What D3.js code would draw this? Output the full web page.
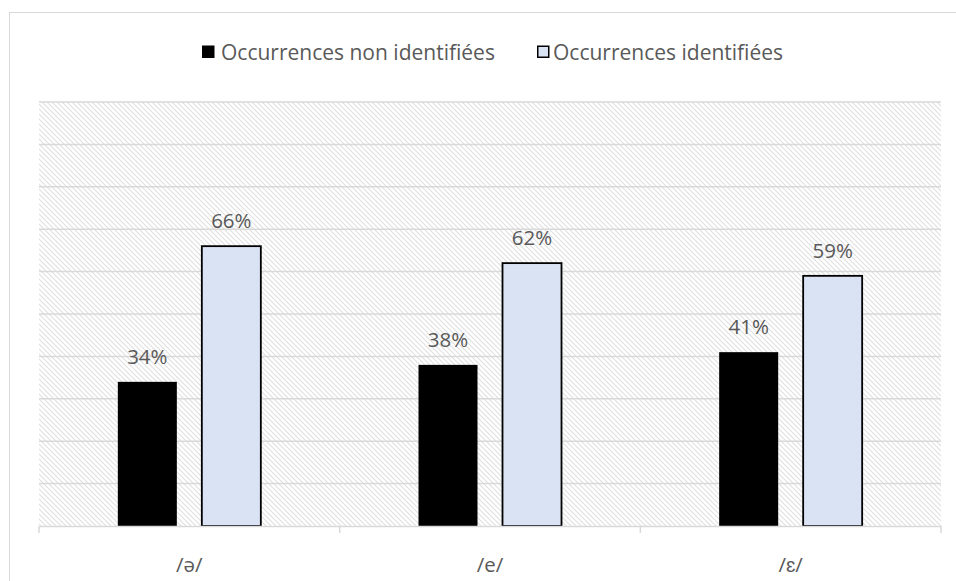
<!DOCTYPE html>
<html><head><meta charset="utf-8">
<script src="https://cdn.jsdelivr.net/npm/d3@7"></script>
<style>html,body{margin:0;padding:0;background:#fff;}svg{display:block;}</style>
</head><body>
<svg id="chart" width="956" height="581"></svg>
<script>
const categories = ["/ə/", "/e/", "/ɛ/"];
const seriesNames = ["Occurrences non identifiées", "Occurrences identifiées"];
const nonIdentified = [34, 38, 41];
const identified = [66, 62, 59];
const yTicks = [0,10,20,30,40,50,60,70,80,90,100];

(function(){
const svg = d3.select("#chart");
const W = 956, H = 581;
const mLeft = 39, mRight = 941, mTop = 102, mBottom = 526;
const font = "'Open Sans', sans-serif";
const textColor = "#595959";
const colors = ["#000000", "#DAE3F3"];
const fs = 20.5;

const defs = svg.append("defs");
const pat = defs.append("pattern").attr("id","hatch").attr("patternUnits","userSpaceOnUse")
  .attr("width",5).attr("height",5);
pat.append("rect").attr("width",5).attr("height",5).attr("fill","#fff");
pat.append("path").attr("d","M-1,-1 L6,6 M-1,4 L1,6 M4,-1 L6,1")
  .attr("stroke","#e0e0e0").attr("stroke-width",1.1);

svg.append("rect").attr("width",W).attr("height",H).attr("fill","#fff");
svg.append("rect").attr("x",9.5).attr("y",12.5).attr("width",W).attr("height",H)
  .attr("fill","none").attr("stroke","#d9d9d9");

const x0 = d3.scaleBand().domain(categories).range([mLeft,mRight]).paddingInner(0).paddingOuter(0);
const y = d3.scaleLinear().domain([0,100]).range([mBottom, mTop]);

svg.append("rect").attr("x",mLeft).attr("y",mTop).attr("width",mRight-mLeft).attr("height",mBottom-mTop)
  .attr("fill","url(#hatch)");

svg.append("g").selectAll("line").data(yTicks.filter(d=>d>0)).join("line")
  .attr("x1",mLeft).attr("x2",mRight).attr("y1",d=>y(d)).attr("y2",d=>y(d))
  .attr("stroke","#d9d9d9").attr("stroke-width",1.5);

const x1 = d3.scaleBand().domain([0,1]).range([-71.5,71.5]).paddingInner(0.2976);
const data = categories.map((c,i)=>({c, v:[nonIdentified[i], identified[i]]}));

const g = svg.append("g");
data.forEach(d=>{
  const cx = x0(d.c) + x0.bandwidth()/2;
  d.v.forEach((v,s)=>{
    g.append("rect").attr("x",cx + x1(s)).attr("y",y(v)).attr("width",x1.bandwidth())
      .attr("height",y(0)-y(v)).attr("fill",colors[s])
      .attr("stroke", s===1 ? "#000" : "none").attr("stroke-width",1.8);
    g.append("text").attr("x",cx + x1(s) + x1.bandwidth()/2).attr("y",y(v)-18)
      .attr("text-anchor","middle").attr("font-family",font).attr("font-size",fs)
      .attr("fill",textColor).text(v+"%");
  });
});

const xAxis = svg.append("g").attr("transform",`translate(0,${mBottom})`)
  .call(d3.axisBottom(x0).tickSize(0).tickPadding(31));
xAxis.select(".domain").attr("stroke","#d9d9d9").attr("stroke-width",1.5);
xAxis.selectAll("text").attr("font-family",font).attr("font-size",fs).attr("fill",textColor);
const bounds = [mLeft, ...categories.map(c=>x0(c)+x0.bandwidth())];
svg.append("g").selectAll("line").data(bounds).join("line")
  .attr("x1",d=>d).attr("x2",d=>d).attr("y1",mBottom).attr("y2",mBottom+7)
  .attr("stroke","#d9d9d9").attr("stroke-width",1.5);

const legendItems = [{x:202, tx:221, name:seriesNames[0]},{x:537, tx:553, name:seriesNames[1]}];
legendItems.forEach((it,i)=>{
  svg.append("rect").attr("x",it.x+0.75).attr("y",46.25).attr("width",11).attr("height",11)
    .attr("fill",colors[i]).attr("stroke","#000").attr("stroke-width",1.5);
  svg.append("text").attr("x",it.tx).attr("y",59.5).attr("font-family",font).attr("font-size",21)
    .attr("fill",textColor).text(it.name);
});
})();
</script>
</body></html>
